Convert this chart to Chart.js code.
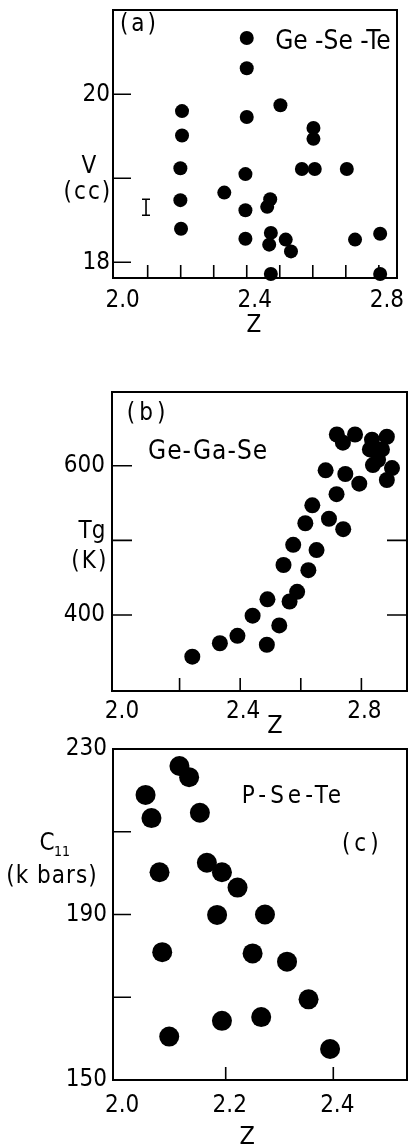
<!DOCTYPE html>
<html>
<head>
<meta charset="utf-8">
<title>V, Tg and C11 against Z</title>
<script src="https://cdn.jsdelivr.net/npm/chart.js@4.4.1/dist/chart.umd.min.js"></script>
<style>
  html, body { margin: 0; padding: 0; background: #fff; }
  #wrap { position: relative; width: 408px; height: 1148px; overflow: hidden; }
  canvas { position: absolute; left: 0; }
</style>
</head>
<body>
<div id="wrap">
  <canvas id="panelA" width="408" height="350" style="top:0px"></canvas>
  <canvas id="panelB" width="408" height="400" style="top:350px"></canvas>
  <canvas id="panelC" width="408" height="428" style="top:720px"></canvas>
</div>
<script>
const FONT = '"DejaVu Sans Condensed", "Liberation Sans Narrow", "DejaVu Sans", sans-serif';

// (a) Ge-Se-Te : molar volume V (cc) against Z
const zGeSeTe = [2.400, 2.400, 2.400, 2.502, 2.204, 2.204, 2.199, 2.199, 2.201, 2.396,
                 2.332, 2.396, 2.471, 2.462, 2.396, 2.473, 2.468, 2.518, 2.534, 2.473,
                 2.602, 2.602, 2.567, 2.606, 2.703, 2.728, 2.804, 2.804];
const vGeSeTe = [20.67, 20.31, 19.73, 19.87, 19.80, 19.51, 19.12, 18.74, 18.40, 19.05,
                 18.83, 18.62, 18.75, 18.66, 18.28, 18.35, 18.21, 18.27, 18.13, 17.86,
                 19.60, 19.47, 19.11, 19.11, 19.11, 18.27, 18.34, 17.86];
const xLabelsA = [2.0, 2.4, 2.8];
const yLabelsA = [18, 20];
const xMarksA = [2.1, 2.2, 2.3, 2.4, 2.5, 2.6, 2.7, 2.8];
const yMarksA = [18, 19, 20];
const errorBarA = { z: 2.095, low: 18.56, high: 18.75 };

// (b) Ge-Ga-Se : glass transition Tg (K) against Z
const zGeGaSe = [2.242, 2.333, 2.391, 2.441, 2.488, 2.529, 2.490, 2.563, 2.588, 2.543,
                 2.625, 2.575, 2.652, 2.615, 2.638, 2.693, 2.740, 2.718, 2.682, 2.747,
                 2.793, 2.719, 2.739, 2.779, 2.835, 2.884, 2.828, 2.868, 2.855, 2.838,
                 2.901, 2.884];
const tgGeGaSe = [344, 362, 372, 399, 360, 386, 421, 418, 431, 467,
                  460, 494, 487, 523, 547, 529, 515, 562, 594, 589,
                  576, 642, 631, 642, 635, 639, 622, 622, 608, 601,
                  597, 581];
const xLabelsB = [2.0, 2.4, 2.8];
const yLabelsB = [400, 600];
const xMarksB = [2.2, 2.4, 2.6, 2.8];
const yMarksB = [400, 500, 600];
const yMarksRightB = [400, 500];

// (c) P-Se-Te : elastic constant C11 (k bars) against Z
const zPSeTe = [2.114, 2.132, 2.051, 2.062, 2.152, 2.077, 2.165, 2.193, 2.222, 2.184,
                2.273, 2.082, 2.250, 2.314, 2.354, 2.193, 2.266, 2.095, 2.394];
const c11PSeTe = [225.9, 223.2, 218.9, 213.3, 214.6, 200.2, 202.5, 200.2, 196.5, 189.9,
                  190.0, 180.9, 180.6, 178.6, 169.5, 164.3, 165.2, 160.5, 157.5];
const xLabelsC = [2.0, 2.2, 2.4];
const yLabelsC = [150, 190, 230];
const xMarksC = [2.2, 2.4];
const yMarksC = [170, 190, 210];

// frame, inward tick marks and the text placed in data units
function framePlugin(marks, texts) {
  return {
    id: 'frame',
    beforeDatasetsDraw(chart) {
      const { ctx, chartArea: a, scales: { x, y } } = chart;
      ctx.save();
      ctx.strokeStyle = '#000';
      ctx.lineWidth = 2;
      ctx.strokeRect(a.left, a.top, a.right - a.left, a.bottom - a.top);

      ctx.lineWidth = 1.6;
      ctx.beginPath();
      marks.x.forEach(v => {
        const px = x.getPixelForValue(v);
        ctx.moveTo(px, a.bottom);
        ctx.lineTo(px, a.bottom - marks.xLen);
      });
      marks.y.forEach(v => {
        const py = y.getPixelForValue(v);
        ctx.moveTo(a.left, py);
        ctx.lineTo(a.left + marks.yLen, py);
      });
      (marks.yRight || []).forEach(v => {
        const py = y.getPixelForValue(v);
        ctx.moveTo(a.right, py);
        ctx.lineTo(a.right - marks.yLen, py);
      });
      if (marks.errorBar) {
        const e = marks.errorBar;
        const px = x.getPixelForValue(e.z);
        const top = y.getPixelForValue(e.high);
        const bottom = y.getPixelForValue(e.low);
        ctx.moveTo(px, top);
        ctx.lineTo(px, bottom);
        ctx.moveTo(px - 4, top);
        ctx.lineTo(px + 4, top);
        ctx.moveTo(px - 4, bottom);
        ctx.lineTo(px + 4, bottom);
      }
      ctx.stroke();

      ctx.fillStyle = '#000';
      ctx.textBaseline = 'middle';
      texts.forEach(t => {
        ctx.font = `${t.size}px ${FONT}`;
        ctx.letterSpacing = `${t.spacing || 0}px`;
        ctx.textAlign = t.align || 'center';
        ctx.fillText(t.text, x.getPixelForValue(t.x), y.getPixelForValue(t.y));
      });
      ctx.restore();
    }
  };
}

function makePanel(id, cfg) {
  const points = cfg.xs.map((v, i) => ({ x: v, y: cfg.ys[i] }));
  return new Chart(document.getElementById(id), {
    type: 'scatter',
    data: {
      datasets: [{
        data: points,
        backgroundColor: '#000',
        borderWidth: 0,
        pointRadius: cfg.radius,
        pointHoverRadius: cfg.radius,
        clip: false
      }]
    },
    options: {
      responsive: false,
      animation: false,
      devicePixelRatio: 1,
      events: [],
      layout: { padding: cfg.padding, autoPadding: false },
      plugins: { legend: { display: false }, tooltip: { enabled: false } },
      scales: {
        x: {
          type: 'linear',
          min: cfg.xMin,
          max: cfg.xMax,
          grid: { display: false, drawTicks: false },
          border: { display: false },
          afterBuildTicks: s => { s.ticks = cfg.xLabels.map(v => ({ value: v })); },
          afterFit: s => {
            s.height = cfg.xAxisHeight;
            s.paddingLeft = 0;
            s.paddingRight = 0;
          },
          ticks: {
            color: '#000',
            font: { family: FONT, size: cfg.fontSize },
            padding: cfg.xPad,
            labelOffset: cfg.xLabelOffset,
            maxRotation: 0,
            autoSkip: false,
            callback: v => v.toFixed(1)
          }
        },
        y: {
          type: 'linear',
          min: cfg.yMin,
          max: cfg.yMax,
          grid: { display: false, drawTicks: false },
          border: { display: false },
          afterBuildTicks: s => { s.ticks = cfg.yLabels.map(v => ({ value: v })); },
          afterFit: s => {
            s.width = cfg.yAxisWidth;
            s.paddingTop = 0;
            s.paddingBottom = 0;
          },
          ticks: {
            color: '#000',
            font: { family: FONT, size: cfg.fontSize },
            padding: cfg.yPad,
            autoSkip: false,
            callback: v => String(v)
          }
        }
      }
    },
    plugins: [framePlugin(cfg.marks, cfg.texts)]
  });
}

makePanel('panelA', {
  xs: zGeSeTe, ys: vGeSeTe, radius: 7,
  xMin: 1.995, xMax: 2.855, yMin: 17.813, yMax: 21.004,
  xLabels: xLabelsA, yLabels: yLabelsA,
  padding: { top: 10, right: 11, left: 0, bottom: 0 },
  xAxisHeight: 72, yAxisWidth: 113,
  fontSize: 24, xPad: 8, yPad: 3, xLabelOffset: 8,
  marks: { x: xMarksA, y: yMarksA, xLen: 13, yLen: 18, errorBar: errorBarA },
  texts: [
    { text: '(a)', x: 2.016, y: 20.825, align: 'left', size: 24, spacing: 3 },
    { text: 'Ge -Se -Te', x: 2.486, y: 20.62, align: 'left', size: 26 },
    { text: 'V', x: 1.922, y: 19.135, size: 24 },
    { text: '(cc)', x: 1.919, y: 18.83, size: 24, spacing: 2 },
    { text: 'Z', x: 2.422, y: 17.25, size: 24 }
  ]
});

makePanel('panelB', {
  xs: zGeGaSe, ys: tgGeGaSe, radius: 8,
  xMin: 1.977, xMax: 2.9505, yMin: 298, yMax: 699,
  xLabels: xLabelsB, yLabels: yLabelsB,
  padding: { top: 42, right: 1, left: 0, bottom: 0 },
  xAxisHeight: 59, yAxisWidth: 112,
  fontSize: 24, xPad: 6, yPad: 7, xLabelOffset: 3,
  marks: { x: xMarksB, y: yMarksB, yRight: yMarksRightB, xLen: 13, yLen: 20 },
  texts: [
    { text: '(b)', x: 2.026, y: 669.8, align: 'left', size: 24, spacing: 4 },
    { text: 'Ge-Ga-Se', x: 2.096, y: 618.8, align: 'left', size: 26, spacing: 1 },
    { text: 'Tg', x: 1.911, y: 511.4, size: 24 },
    { text: '(K)', x: 1.904, y: 471.1, size: 24, spacing: 2 },
    { text: 'Z', x: 2.515, y: 250, size: 25 }
  ]
});

makePanel('panelC', {
  xs: zPSeTe, ys: c11PSeTe, radius: 10,
  xMin: 1.9905, xMax: 2.537, yMin: 150, yMax: 230,
  xLabels: xLabelsC, yLabels: yLabelsC,
  padding: { top: 29, right: 1, left: 0, bottom: 0 },
  xAxisHeight: 68, yAxisWidth: 113,
  fontSize: 24, xPad: 11, yPad: 6, xLabelOffset: 4,
  marks: { x: xMarksC, y: yMarksC, xLen: 13, yLen: 18 },
  texts: [
    { text: 'P-Se-Te', x: 2.230, y: 218.4, align: 'left', size: 24, spacing: 4 },
    { text: '(c)', x: 2.416, y: 206.8, align: 'left', size: 24, spacing: 4 },
    { text: 'C', x: 1.868, y: 207.0, size: 24 },
    { text: '11', x: 1.881, y: 204.9, align: 'left', size: 14 },
    { text: '(k bars)', x: 1.877, y: 199.1, size: 24, spacing: 1 },
    { text: 'Z', x: 2.240, y: 136.0, size: 25 }
  ]
});
</script>
</body>
</html>
